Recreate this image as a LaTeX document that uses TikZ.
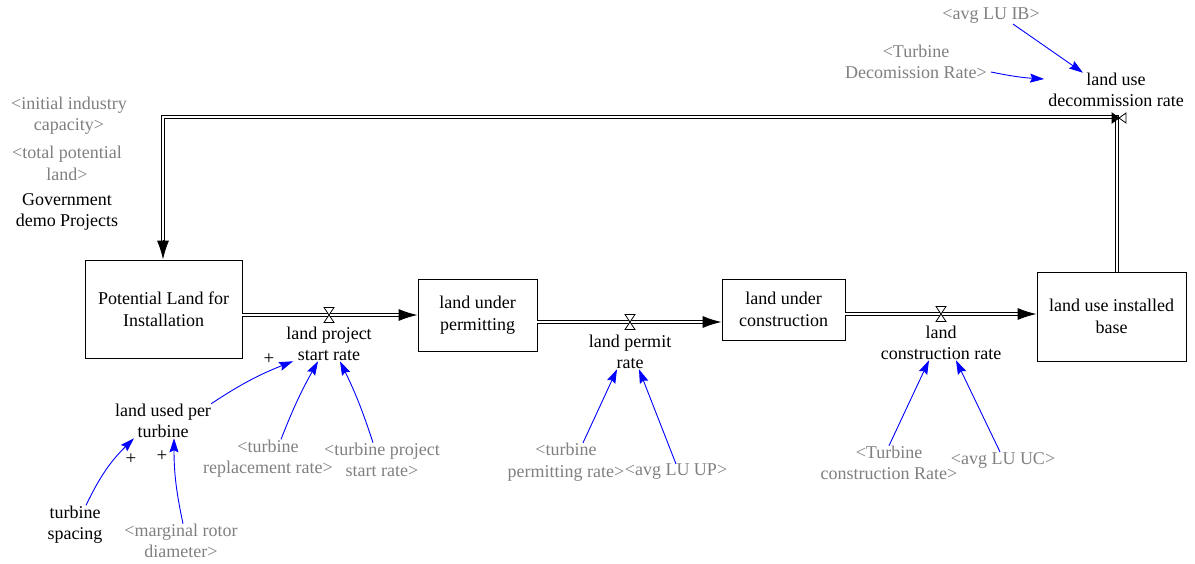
\documentclass[tikz,border=0pt]{standalone}
\usepackage{fontspec}
\setmainfont{Liberation Serif}
\newfontfamily\diagfont{Liberation Serif}
\usetikzlibrary{arrows.meta}
\definecolor{shadowgray}{RGB}{128,128,128}
\definecolor{linkblue}{RGB}{0,0,255}
\begin{document}
\begin{tikzpicture}[x=1pt,y=-1pt,
  lbl/.style={font=\diagfont\fontsize{18}{21.5}\selectfont, align=center, inner sep=0pt},
  shadow/.style={lbl, text=shadowgray},
  stock/.style={lbl, draw, line width=0.9pt},
  plus/.style={font=\diagfont\fontsize{19}{19}\selectfont, inner sep=0pt},
  pipe/.style={draw, double, line width=1.1pt, double distance=2.4pt},
  pipetip/.style={-{Latex[length=19pt,width=12pt]}, line width=1pt},
  infl/.style={draw=linkblue, line width=0.9pt, -{Stealth[length=14pt,width=9pt,inset=2pt]}},
  vvalve/.pic={\draw[line width=0.8pt, fill=white] (-5,-7.5) -- (5,-7.5) -- (0,0) -- cycle (-5,7.5) -- (5,7.5) -- (0,0) -- cycle;},
  hvalve/.pic={\draw[line width=0.8pt, fill=black] (-7,-5) -- (-7,5) -- (0,0) -- cycle;
               \draw[line width=0.8pt, fill=white] (7,-5) -- (7,5) -- (0,0) -- cycle;}
]
\useasboundingbox[fill=white] (0,0) rectangle (1195,563);

% stocks
\node[stock, minimum width=157pt, minimum height=98pt] (box1) at (163.5,309) {Potential Land for\\Installation};
\node[stock, minimum width=119pt, minimum height=72pt] (box2) at (477.5,315) {land under\\permitting};
\node[stock, minimum width=123pt, minimum height=61pt] (box3) at (783.5,309.5) {land under\\construction};
\node[stock, minimum width=149pt, minimum height=89pt] (box4) at (1111.5,316.5) {land use installed\\base};

% pipe levels
\coordinate (f1) at (0,315);
\coordinate (f2) at (0,322);
\coordinate (f3) at (0,314);
\coordinate (c4) at (1117,117);
\coordinate (c1) at (163,117);
\coordinate (a4s) at (163,242);

% flow 1
\draw[pipe] (box1.east |- f1) -- ([xshift=-17pt]box2.west |- f1);
\draw[pipetip] ([xshift=-19pt]box2.west |- f1) -- (box2.west |- f1);
\pic (v1) at (329,315) {vvalve};
% flow 2
\draw[pipe] (box2.east |- f2) -- ([xshift=-17pt]box3.west |- f2);
\draw[pipetip] ([xshift=-19pt]box3.west |- f2) -- (box3.west |- f2);
\pic (v2) at (630,322) {vvalve};
% flow 3
\draw[pipe] (box3.east |- f3) -- ([xshift=-17pt]box4.west |- f3);
\draw[pipetip] ([xshift=-19pt]box4.west |- f3) -- (box4.west |- f3);
\pic (v3) at (941,314) {vvalve};
% flow 4
\draw[pipe] (box4.north -| c4) -- (c4) -- (c1) -- (a4s);
\draw[pipetip] ([yshift=2pt]a4s) -- (box1.north -| c1);
\pic (v4) at (1119,118) {hvalve};

% flow labels
\node[lbl] (lpsr) at (329,344) {land project\\start rate};
\node[lbl] (lpr) at (630,352) {land permit\\rate};
\node[lbl] (lcr) at (941,343) {land\\construction rate};
\node[lbl] (ludr) at (1116,90) {land use\\decommission rate};

% auxiliaries
\node[shadow] (iic) at (69,115.5) {<initial industry\\capacity>};
\node[shadow] (tpl) at (67,163.5) {<total potential\\land>};
\node[lbl] (gdp) at (67,212) {Government\\demo Projects};
\node[lbl] (lupt) at (163,421) {land used per\\turbine};
\node[lbl] (ts) at (75,524.5) {turbine\\spacing};
\node[shadow] (mrd) at (181,541) {<marginal rotor\\diameter>};
\node[shadow] (trr) at (268,458.5) {<turbine\\replacement rate>};
\node[shadow] (tpsr) at (382,460) {<turbine project\\start rate>};
\node[shadow] (tpr) at (566,462) {<turbine\\permitting rate>};
\node[shadow] (aup) at (676,472) {<avg LU UP>};
\node[shadow] (tcr) at (889,463) {<Turbine\\construction Rate>};
\node[shadow] (auc) at (1003,460) {<avg LU UC>};
\node[shadow] (aib) at (991,16) {<avg LU IB>};
\node[shadow] (tdr) at (916,62) {<Turbine\\Decomission Rate>};

\node[plus] (p1) at (269,359) {+};
\node[plus] (p2) at (131,459) {+};
\node[plus] (p3) at (162,456) {+};

% influences
\draw[infl] (lupt.north east) to[bend left=6] ([xshift=7pt]lpsr.south west);
\draw[infl] ([xshift=13pt]trr.north) to[bend left=4] ([xshift=-11pt]lpsr.south);
\draw[infl] ([xshift=-9pt]tpsr.north) to[bend right=4] ([xshift=11pt]lpsr.south);
\draw[infl] ([xshift=11pt]ts.north) to[bend left=10] ([xshift=-29pt]lupt.south);
\draw[infl] ([xshift=2pt]mrd.north) to[bend left=6] ([xshift=11pt]lupt.south);
\draw[infl] ([xshift=17pt]tpr.north) to ([xshift=-13pt]lpr.south);
\draw[infl] (aup.north) to ([xshift=9pt]lpr.south);
\draw[infl] (tcr.north) to ([xshift=-12pt]lcr.south);
\draw[infl] ([xshift=-3pt]auc.north) to ([xshift=15pt]lcr.south);
\draw[infl] ([xshift=22pt]aib.south) to ([xshift=-33pt]ludr.north);
\draw[infl] ([xshift=4pt,yshift=-10pt]tdr.east) to[bend right=4] ([xshift=-4pt,yshift=11pt]ludr.west);
\end{tikzpicture}
\end{document}
